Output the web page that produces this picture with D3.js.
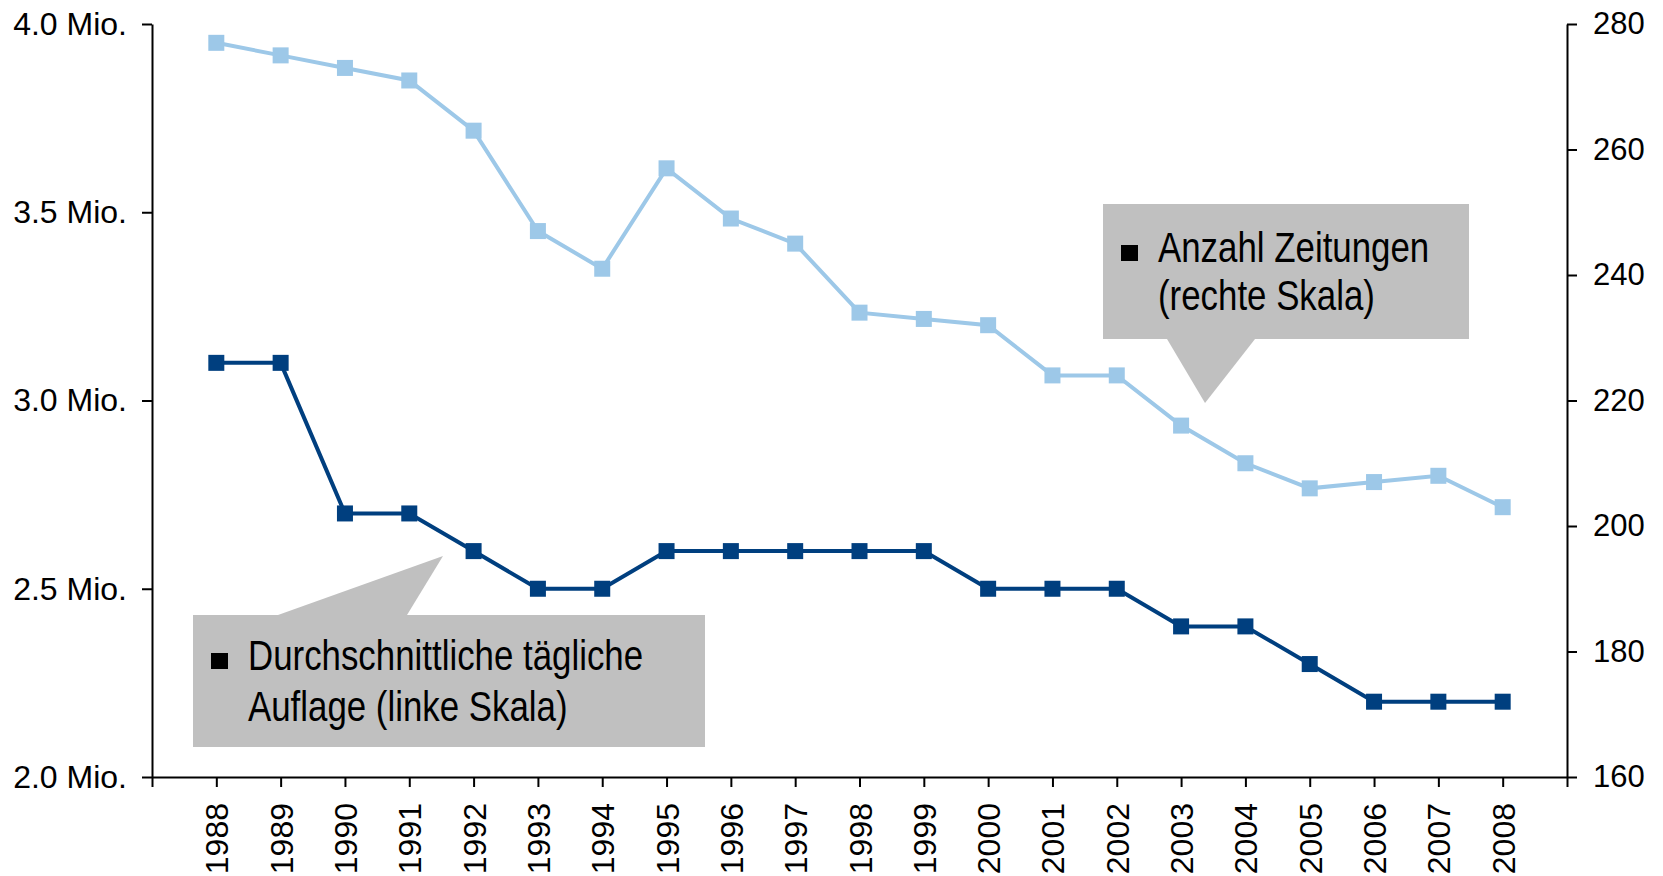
<!DOCTYPE html>
<meta charset="utf-8">
<html>
  <head>
    <title>Zeitungen: Auflage und Anzahl</title>
    <script src="https://d3js.org/d3.v7.min.js"></script>
    <style>
      body { margin: 0; background: #fff; }
      .axis text { font-family: "Liberation Sans", Arial, sans-serif; fill: #000; }
      .note text { font-family: "Liberation Sans", Arial, sans-serif; fill: #000; }
    </style>
  </head>
  <body>
    <div id="chart"></div>
  </body>

  <script>
    var width = 1663,
        height = 876;
    var margin = {left: 152, right: 96, top: 24, bottom: 99};

    // data
    var years = [1988, 1989, 1990, 1991, 1992, 1993, 1994, 1995, 1996, 1997, 1998,
                 1999, 2000, 2001, 2002, 2003, 2004, 2005, 2006, 2007, 2008];
    // Durchschnittliche tägliche Auflage, Mio. (linke Skala)
    var auflage = [3.1, 3.1, 2.7, 2.7, 2.6, 2.5, 2.5, 2.6, 2.6, 2.6, 2.6,
                   2.6, 2.5, 2.5, 2.5, 2.4, 2.4, 2.3, 2.2, 2.2, 2.2];
    // Anzahl Zeitungen (rechte Skala)
    var zeitungen = [277, 275, 273, 271, 263, 247, 241, 257, 249, 245, 234,
                     233, 232, 224, 224, 216, 210, 206, 207, 208, 203];
    var leftTicks = [2.0, 2.5, 3.0, 3.5, 4.0];
    var rightTicks = [160, 180, 200, 220, 240, 260, 280];

    var colDark = "#003f7f",
        colLight = "#9dc8e8",
        colBox = "#c0c0c0";

    var svg = d3.select("#chart").append("svg")
        .attr("width", width)
        .attr("height", height);

    var x = d3.scaleLinear()
        .domain([1987, 2009])
        .range([margin.left, width - margin.right]);
    var yL = d3.scaleLinear()
        .domain([2.0, 4.0])
        .range([height - margin.bottom, margin.top]);
    var yR = d3.scaleLinear()
        .domain([160, 280])
        .range([height - margin.bottom, margin.top]);

    // annotation boxes (drawn below the lines)
    var notes = [
      {box: [1103, 204, 366, 135], tri: [[1167, 339], [1255, 339], [1205, 403]],
       lines: ["Anzahl Zeitungen", "(rechte Skala)"], tx: 1158, ty: 262, gap: 48, bx: 1121},
      {box: [193, 615, 512, 132], tri: [[278, 615], [407, 615], [443, 556]],
       lines: ["Durchschnittliche tägliche", "Auflage (linke Skala)"], tx: 248, ty: 670, gap: 51, bx: 211}
    ];
    var noteG = svg.append("g").attr("class", "note");
    notes.forEach(function(n){
      var g = noteG.append("g");
      g.append("rect")
        .attr("x", n.box[0]).attr("y", n.box[1])
        .attr("width", n.box[2]).attr("height", n.box[3])
        .attr("fill", colBox);
      g.append("polygon")
        .attr("points", n.tri.map(function(p){ return p.join(","); }).join(" "))
        .attr("fill", colBox);
      g.append("rect")
        .attr("x", n.bx).attr("y", n.ty - 17)
        .attr("width", 17).attr("height", 16)
        .attr("fill", "#000");
      // condensed look: squeeze the regular face horizontally
      n.lines.forEach(function(t, i){
        g.append("text")
          .attr("transform", "translate(" + n.tx + "," + (n.ty + i * n.gap) + ") scale(0.83,1)")
          .style("font-size", "42px")
          .text(t);
      });
    });

    // axes
    var axisL = svg.append("g").attr("class", "axis")
        .attr("transform", "translate(" + margin.left + ",0)")
        .call(d3.axisLeft(yL).tickValues(leftTicks)
          .tickFormat(function(d){ return d3.format(".1f")(d) + " Mio."; })
          .tickSize(10).tickSizeOuter(0).tickPadding(15));
    var axisR = svg.append("g").attr("class", "axis")
        .attr("transform", "translate(" + (width - margin.right) + ",0)")
        .call(d3.axisRight(yR).tickValues(rightTicks)
          .tickSize(10).tickSizeOuter(0).tickPadding(16));
    var axisB = svg.append("g").attr("class", "axis")
        .attr("transform", "translate(0," + (height - margin.bottom) + ")")
        .call(d3.axisBottom(x).tickValues(d3.range(1987, 2010))
          .tickFormat(function(d){ return years.indexOf(d) >= 0 ? String(d) : ""; })
          .tickSize(10).tickSizeOuter(0));

    svg.selectAll(".axis path, .axis line")
      .attr("stroke", "#000")
      .attr("stroke-width", 2);
    axisL.selectAll("text").style("font-size", "32px");
    axisR.selectAll("text").style("font-size", "31px");
    axisB.selectAll("text")
      .style("font-size", "32px")
      .attr("text-anchor", "end")
      .attr("y", 0)
      .attr("dy", "0.36em")
      .attr("transform", "translate(0,26) rotate(-90)");

    // series
    var series = [
      {vals: auflage, y: yL, color: colDark, w: 4},
      {vals: zeitungen, y: yR, color: colLight, w: 4}
    ];
    series.forEach(function(s){
      var pts = years.map(function(yr, i){ return [x(yr), s.y(s.vals[i])]; });
      svg.append("path")
        .attr("d", d3.line()(pts))
        .attr("fill", "none")
        .attr("stroke", s.color)
        .attr("stroke-width", s.w);
      svg.append("g").selectAll("rect")
        .data(pts).enter().append("rect")
        .attr("x", function(d){ return d[0] - 8; })
        .attr("y", function(d){ return d[1] - 8; })
        .attr("width", 16)
        .attr("height", 16)
        .attr("fill", s.color);
    });
  </script>
</html>
